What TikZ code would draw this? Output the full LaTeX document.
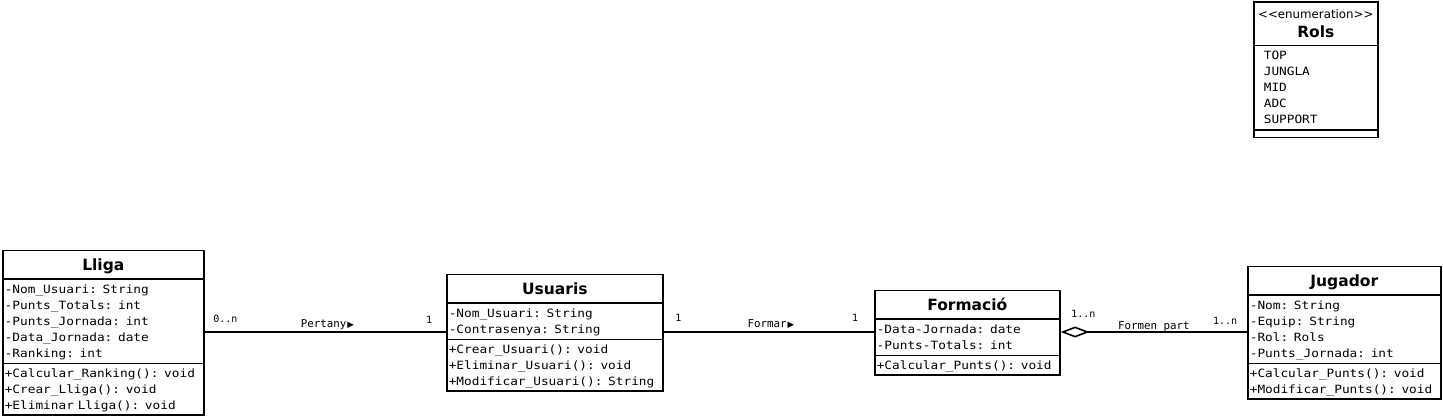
\documentclass[tikz,border=0pt]{standalone}
\usepackage{fontspec}
\setmainfont{DejaVu Sans}
\setsansfont{DejaVu Sans}
\setmonofont{DejaVu Sans Mono}
\newfontfamily\attrfont{DejaVu Sans Mono}[FakeStretch=1.12]
\usetikzlibrary{shapes.multipart,arrows.meta}

\newcommand{\classtitle}{\sffamily\bfseries\fontsize{15.5}{18}\selectfont}
\newcommand{\stereofont}{\sffamily\fontsize{11.8}{14}\selectfont}
\newcommand{\rowstrut}{\rule[-4pt]{0pt}{16pt}}
\newcommand{\laststrut}{\rule[-3pt]{0pt}{15pt}}
\newcommand{\titlestrut}{\rule[-6pt]{0pt}{24pt}}
\newcommand{\classname}[1]{\makebox[\linewidth][c]{\classtitle\titlestrut #1}}
\newcommand{\enumitem}[1]{\hspace*{8pt}\rowstrut #1}
\newcommand{\navarrow}{\kern1pt{\sffamily\fontsize{8.5}{10}\selectfont ▶}}

\tikzset{
  umlclass/.style={rectangle split, rectangle split parts=3, draw, line width=1.6pt,
    anchor=north west, inner xsep=2pt, inner ysep=1.5pt, align=left,
    font=\attrfont\fontsize{11.4}{16}\selectfont},
  assoc/.style={line width=1.6pt},
  cardinal/.style={font=\ttfamily\fontsize{10}{12}\selectfont, inner sep=0pt},
  relname/.style={font=\ttfamily\fontsize{10.8}{12}\selectfont, inner sep=0pt},
}

\begin{document}
\begin{tikzpicture}[x=1pt,y=-1pt]
  \useasboundingbox (0,0) rectangle (1443,416);

  % classes
  \node[umlclass, text width=197pt] (lliga) at (2,249.5) {\classname{Lliga}
    \nodepart{two}\rowstrut-Nom\_Usuari: String\\
    \rowstrut-Punts\_Totals: int\\
    \rowstrut-Punts\_Jornada: int\\
    \rowstrut-Data\_Jornada: date\\
    \rowstrut-Ranking: int
    \nodepart{three}\rowstrut+Calcular\_Ranking(): void\\
    \rowstrut+Crear\_Lliga(): void\\
    \laststrut+Eliminar Lliga(): void};

  \node[umlclass, text width=212pt] (usuaris) at (446,273.5) {\classname{Usuaris}
    \nodepart{two}\rowstrut-Nom\_Usuari: String\\
    \rowstrut-Contrasenya: String
    \nodepart{three}\rowstrut+Crear\_Usuari(): void\\
    \rowstrut+Eliminar\_Usuari(): void\\
    \laststrut+Modificar\_Usuari(): String};

  \node[umlclass, text width=181pt] (formacio) at (874,289.5) {\classname{Formació}
    \nodepart{two}\rowstrut-Data-Jornada: date\\
    \rowstrut-Punts-Totals: int
    \nodepart{three}\laststrut+Calcular\_Punts(): void};

  \node[umlclass, text width=189pt] (jugador) at (1247,265.5) {\classname{Jugador}
    \nodepart{two}\rowstrut-Nom: String\\
    \rowstrut-Equip: String\\
    \rowstrut-Rol: Rols\\
    \rowstrut-Punts\_Jornada: int
    \nodepart{three}\rowstrut+Calcular\_Punts(): void\\
    \laststrut+Modificar\_Punts(): void};

  % enumeration
  \node[umlclass, text width=120pt] (rols) at (1253,1) {\makebox[\linewidth][c]{\rule{0pt}{14pt}\stereofont <{}<enumeration>{}>}\\[3pt]\makebox[\linewidth][c]{\classtitle Rols\rule[-6pt]{0pt}{6pt}}
    \nodepart{two}\enumitem{TOP}\\
    \enumitem{JUNGLA}\\
    \enumitem{MID}\\
    \enumitem{ADC}\\
    \enumitem{SUPPORT}
    \nodepart{three}\rule{0pt}{3pt}};

  % associations
  \coordinate (axis) at (0,332);
  \draw[assoc] (lliga.north east |- axis) -- (usuaris.north west |- axis)
    node[cardinal, pos=0, anchor=base west, xshift=8pt, yshift=10pt] {0..n}
    node[relname, midway, anchor=base, xshift=2pt, yshift=5pt] {Pertany\navarrow}
    node[cardinal, pos=1, anchor=base east, xshift=-13pt, yshift=9pt] {1};
  \draw[assoc] (usuaris.north east |- axis) -- (formacio.north west |- axis)
    node[cardinal, pos=0, anchor=base west, xshift=11pt, yshift=11pt] {1}
    node[relname, midway, anchor=base, xshift=2pt, yshift=5pt] {Formar\navarrow}
    node[cardinal, pos=1, anchor=base east, xshift=-15pt, yshift=11pt] {1};
  \draw[assoc, {Diamond[open, length=29pt, width=11pt]}-] (formacio.north east |- axis) -- (jugador.north west |- axis)
    node[cardinal, pos=0, anchor=base west, xshift=10pt, yshift=15pt] {1..n}
    node[relname, midway, anchor=base, yshift=3pt] {Formen part}
    node[cardinal, pos=1, anchor=base east, xshift=-9pt, yshift=8pt] {1..n};
\end{tikzpicture}
\end{document}
